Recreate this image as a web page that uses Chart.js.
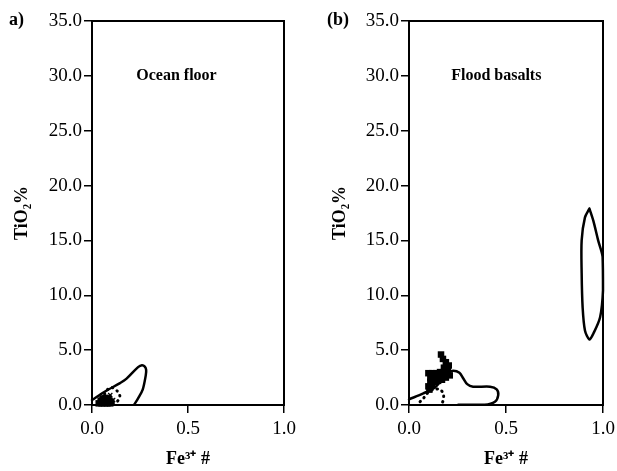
<!DOCTYPE html>
<html><head><meta charset="utf-8">
<script src="https://cdn.jsdelivr.net/npm/chart.js@4"></script>
<style>
html,body{margin:0;padding:0;background:#fff;}
#wrap{position:relative;width:617px;height:471px;overflow:hidden;background:#fff;}
canvas{position:absolute;top:0;}
.lab{position:absolute;font-family:"Liberation Serif",serif;font-weight:bold;font-size:18px;color:#000;}
</style></head><body>
<div id="wrap">
<canvas id="c1" width="308" height="471" style="left:0"></canvas>
<canvas id="c2" width="330" height="471" style="left:308px"></canvas>
<div class="lab" style="left:9px;top:9px">a)</div>
<div class="lab" style="left:327px;top:9px">(b)</div>
</div>
<script>
// ---------- data ----------
const xTicks = [0, 0.5, 1.0];
const yTicks = [0, 5, 10, 15, 20, 25, 30, 35];
const panelTitles = ["Ocean floor", "Flood basalts"];
const xTitle = "Fe³⁺ #";
const yTitle = "TiO₂%";

// (a) Ocean floor
const oceanSolidX = [0, 0.07, 0.146, 0.18, 0.24, 0.26, 0.275, 0.282, 0.28, 0.264, 0.24, 0.22];
const oceanSolidY = [0.45, 1.25, 2.0, 2.4, 3.45, 3.62, 3.5, 3.2, 2.7, 1.4, 0.6, 0.05];
const oceanDotX = [0.06, 0.07, 0.1, 0.13, 0.145, 0.13, 0.1, 0.07, 0.06];
const oceanDotY = [0.5, 1.2, 1.6, 1.3, 0.8, 0.3, 0.15, 0.2, 0.5];
const oceanSqX = [0.035, 0.05, 0.065, 0.08, 0.095, 0.045, 0.06, 0.075, 0.09, 0.055, 0.07, 0.085, 0.1];
const oceanSqY = [0.15, 0.15, 0.15, 0.15, 0.15, 0.4, 0.4, 0.4, 0.4, 0.6, 0.65, 0.6, 0.3];
const oceanCrossX = [0.11, 0.095];
const oceanCrossY = [0.45, 0.9];

// (b) Flood basalts
const floodSolidX = [0, 0.074, 0.134, 0.17, 0.203, 0.228, 0.26, 0.28, 0.30, 0.33, 0.418, 0.452, 0.46, 0.443, 0.39, 0.254];
const floodSolidY = [0.52, 1.06, 1.6, 2.3, 2.94, 3.12, 2.94, 2.42, 1.9, 1.67, 1.67, 1.42, 0.9, 0.3, 0.02, 0.02];
const floodDotX = [0.057, 0.074, 0.094, 0.125, 0.16, 0.177, 0.177, 0.168];
const floodDotY = [0.3, 0.6, 1.06, 1.42, 1.42, 1.0, 0.45, 0.1];
const floodSqX = [0.165, 0.175, 0.19, 0.205, 0.18, 0.2, 0.1, 0.12, 0.14, 0.16, 0.18, 0.2, 0.11, 0.13, 0.15, 0.17, 0.19, 0.21, 0.11, 0.13, 0.15, 0.17, 0.1, 0.12, 0.105];
const floodSqY = [4.6, 4.2, 3.9, 3.6, 3.4, 3.2, 2.9, 2.9, 2.9, 3.0, 3.0, 2.9, 2.5, 2.5, 2.6, 2.6, 2.5, 2.7, 2.1, 2.1, 2.2, 2.3, 1.7, 1.8, 1.4];
const floodHighX = [0.93, 0.95, 0.975, 0.998, 1.0, 0.985, 0.95, 0.93, 0.907, 0.895, 0.89, 0.89, 0.907, 0.93];
const floodHighY = [17.9, 16.8, 15, 13.5, 10.45, 8.0, 6.5, 5.97, 6.8, 8.9, 12, 15, 17.1, 17.9];

// ---------- helpers ----------
const zip = (xs, ys) => xs.map((x, i) => ({x: x, y: ys[i]}));
const FONT = '"Liberation Serif", "Times New Roman", serif';

function solid(xs, ys) {
  return {type: 'line', data: zip(xs, ys), showLine: true, borderColor: '#000', borderWidth: 2.5,
    pointRadius: 0, tension: 0.3, fill: false, clip: false, borderJoinStyle: 'round', borderCapStyle: 'round'};
}
function dotted(xs, ys) {
  return {type: 'line', data: zip(xs, ys), showLine: true, borderColor: '#000', borderWidth: 3,
    borderDash: [0.5, 5], borderCapStyle: 'round', pointRadius: 0, tension: 0.3, fill: false, clip: false};
}
function squares(xs, ys) {
  return {type: 'scatter', data: zip(xs, ys), showLine: false, pointStyle: 'rect', pointRadius: 4.6,
    backgroundColor: '#000', borderColor: '#000', borderWidth: 0, clip: false};
}
function crosses(xs, ys) {
  return {type: 'scatter', data: zip(xs, ys), showLine: false, pointStyle: 'crossRot', pointRadius: 3,
    backgroundColor: '#000', borderColor: '#000', borderWidth: 1.2, clip: false};
}

const frame = {
  id: 'frame',
  afterDatasetsDraw(chart) {
    const a = chart.chartArea, ctx = chart.ctx;
    ctx.save();
    ctx.strokeStyle = '#000'; ctx.lineWidth = 2;
    ctx.strokeRect(a.left, a.top, a.right - a.left, a.bottom - a.top);
    const t = chart.options.plugins.panelTitle;
    ctx.font = 'bold 16px ' + FONT;
    ctx.fillStyle = '#000'; ctx.textAlign = 'center'; ctx.textBaseline = 'middle';
    ctx.fillText(t.text, chart.scales.x.getPixelForValue(t.x), chart.scales.y.getPixelForValue(t.y));
    ctx.restore();
  }
};

function makeChart(id, datasets, title, yWidth, padRight, yTitlePad, titleX) {
  return new Chart(document.getElementById(id), {
    type: 'scatter',
    data: {datasets: datasets},
    plugins: [frame],
    options: {
      responsive: false, animation: false, devicePixelRatio: 1,
      layout: {padding: {left: 0, right: padRight, top: 21, bottom: 0}},
      plugins: {legend: {display: false}, tooltip: {enabled: false}, panelTitle: {text: title, x: titleX, y: 30}},
      scales: {
        x: {
          type: 'linear', min: 0, max: 1,
          afterBuildTicks: s => { s.ticks = xTicks.map(v => ({value: v})); },
          afterFit: s => { s.height = 66; },
          ticks: {color: '#000', font: {family: FONT, size: 19}, padding: 5, maxRotation: 0,
            callback: v => Number(v).toFixed(1)},
          grid: {display: true, drawOnChartArea: false, drawTicks: true, tickLength: 8, color: '#000', lineWidth: 1.5},
          border: {display: true, color: '#000', width: 2},
          title: {display: true, text: xTitle, color: '#000', font: {family: FONT, size: 18, weight: 'bold'},
            padding: {top: 0, bottom: 1}}
        },
        y: {
          type: 'linear', min: 0, max: 35,
          afterBuildTicks: s => { s.ticks = yTicks.map(v => ({value: v})); },
          afterFit: s => { s.width = yWidth; },
          ticks: {color: '#000', font: {family: FONT, size: 19}, padding: 2,
            callback: v => Number(v).toFixed(1)},
          grid: {display: true, drawOnChartArea: false, drawTicks: true, tickLength: 8, color: '#000', lineWidth: 1.5},
          border: {display: true, color: '#000', width: 2},
          title: {display: true, text: yTitle, color: '#000', font: {family: FONT, size: 18, weight: 'bold'},
            padding: {top: yTitlePad, bottom: 0}}
        }
      }
    }
  });
}

makeChart('c1', [
  solid(oceanSolidX, oceanSolidY),
  dotted(oceanDotX, oceanDotY),
  squares(oceanSqX, oceanSqY),
  crosses(oceanCrossX, oceanCrossY)
], panelTitles[0], 92, 24, 12, 0.44);

makeChart('c2', [
  solid(floodSolidX, floodSolidY),
  dotted(floodDotX, floodDotY),
  squares(floodSqX, floodSqY),
  solid(floodHighX, floodHighY)
], panelTitles[1], 101, 35, 22, 0.45);
</script>
</body></html>
